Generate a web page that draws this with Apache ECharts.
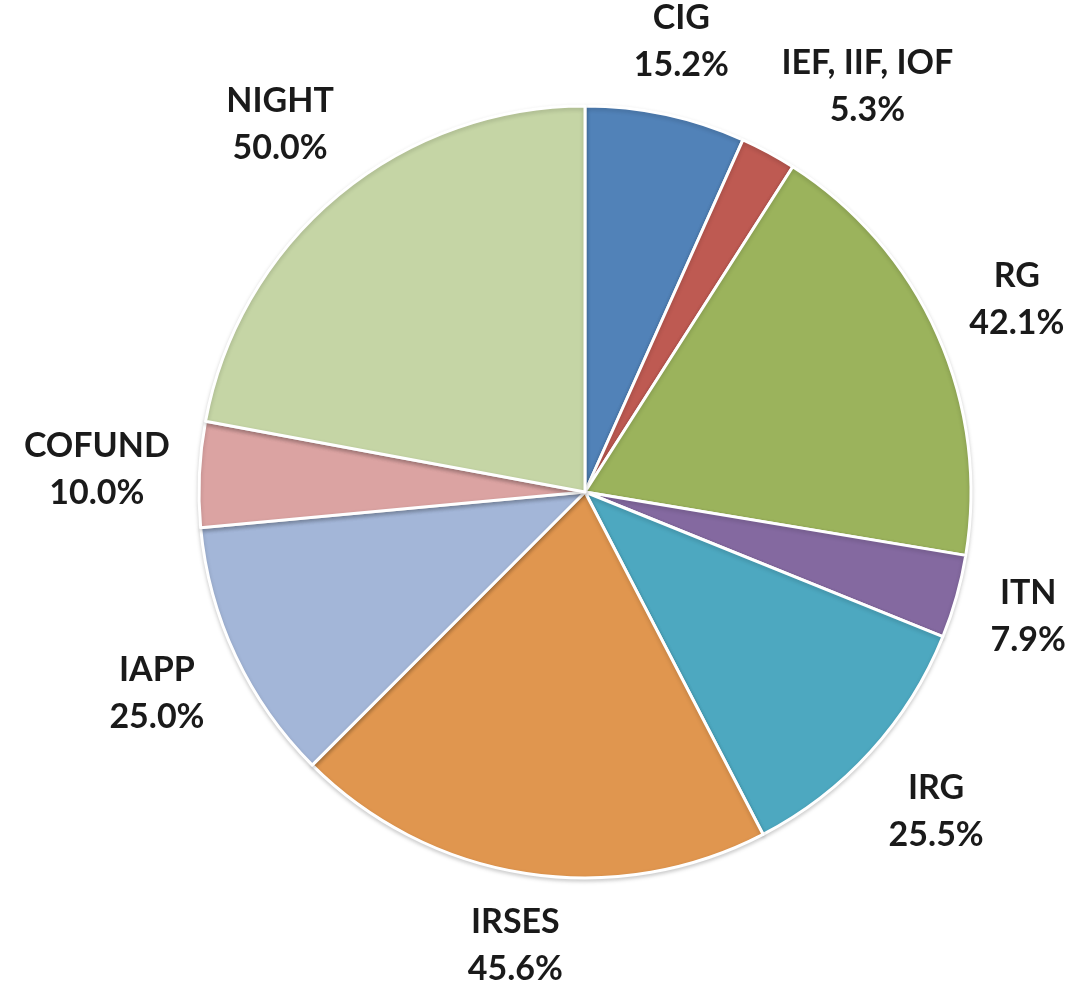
<!DOCTYPE html>
<html>
<head>
<meta charset="utf-8">
<style>
  html, body { margin: 0; padding: 0; background: #fff; }
  #chart { width: 1078px; height: 984px; }
</style>
<script src="https://cdn.jsdelivr.net/npm/echarts@6/dist/echarts.min.js"></script>
</head>
<body>
<div id="chart"></div>
<script>
// slice names and their percentages (clockwise from 12 o'clock)
var names = ['CIG', 'IEF, IIF, IOF', 'RG', 'ITN', 'IRG', 'IRSES', 'IAPP', 'COFUND', 'NIGHT'];
var values = [15.2, 5.3, 42.1, 7.9, 25.5, 45.6, 25.0, 10.0, 50.0];
var colors = ['#5182B8', '#BE5A52', '#9BB35C', '#8469A0', '#4DA8C0', '#E0964F', '#A3B6D8', '#DBA3A2', '#C5D5A5'];

var data = names.map(function (n, i) {
    return { name: n, value: values[i] };
});

var CX = 585, CY = 492, R = 386;
var labelGap = 28;   // space between pie edge and label box
var labelPad = 50;   // min space between neighbouring labels

var chart = echarts.init(document.getElementById('chart'), null, { renderer: 'canvas' });

// place a label box of size w x h at angle a (radians, from +x axis)
function boxAt(a, w, h) {
    var ux = Math.cos(a), uy = Math.sin(a);
    var d = R + labelGap + Math.abs(ux) * w / 2 + Math.abs(uy) * h / 2;
    var x = CX + ux * d, y = CY + uy * d;
    return { x: x, y: y, l: x - w / 2, r: x + w / 2, t: y - h / 2, b: y + h / 2 };
}
function hits(a, b) {
    return a.l < b.r + labelPad && b.l < a.r + labelPad &&
        a.t < b.b + labelPad && b.t < a.b + labelPad;
}

var placed = [];
function layoutLabel(p) {
    if (p.dataIndex === 0) placed = [];
    var rc = p.labelRect;
    var w = rc.width, h = rc.height * 0.8;
    var a = Math.atan2(rc.y + rc.height / 2 - CY, rc.x + rc.width / 2 - CX);
    var box = boxAt(a, w, h);
    var prev = placed[p.dataIndex - 1];
    // slide clockwise until clear of the previous label
    var n = 0;
    while (prev && hits(box, prev) && n < 60) {
        a += Math.PI / 360;
        box = boxAt(a, w, h);
        n++;
    }
    placed[p.dataIndex] = box;
    return { x: box.x, y: box.y };
}

var option = {
    animation: false,
    series: [{
        name: 'slices',
        type: 'pie',
        center: [CX, CY],
        radius: [0, R],
        startAngle: 90,
        clockwise: true,
        color: colors,
        silent: true,
        itemStyle: {
            borderColor: '#fff',
            borderWidth: 3,
            shadowBlur: 4,
            shadowOffsetY: 2,
            shadowColor: 'rgba(0,0,0,0.18)'
        },
        label: { show: false },
        labelLine: { show: false },
        data: data
    }, {
        // invisible ring outside the pie, only used to place the labels
        name: 'labels',
        type: 'pie',
        center: [CX, CY],
        radius: [R, R + 180],
        startAngle: 90,
        clockwise: true,
        silent: true,
        itemStyle: { color: 'transparent', borderWidth: 0 },
        label: {
            show: true,
            position: 'inside',
            formatter: function (p) {
                return p.name + '\n' + p.value.toFixed(1) + '%';
            },
            fontFamily: 'Lato',
            fontWeight: 'bold',
            fontSize: 34,
            lineHeight: 47,
            color: '#1a1a1a'
        },
        labelLine: { show: false },
        labelLayout: layoutLabel,
        data: data
    }]
};

chart.setOption(option);
</script>
</body>
</html>
